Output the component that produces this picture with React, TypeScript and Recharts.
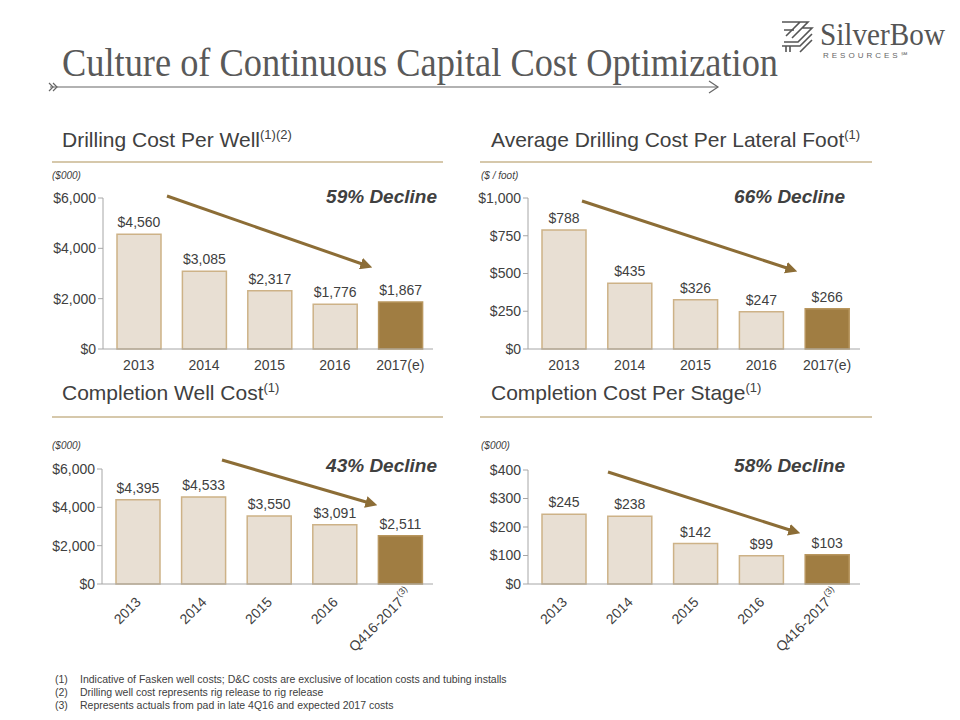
import React from "react";
import { BarChart, Bar, XAxis, YAxis, Cell, LabelList } from "recharts";

// categories
const years = ["2013", "2014", "2015", "2016", "2017(e)"];
const completionPeriods = ["2013", "2014", "2015", "2016", "Q416-2017"];

// series values
const drillingCostPerWell = [4560, 3085, 2317, 1776, 1867];
const drillingCostPerFoot = [788, 435, 326, 247, 266];
const completionWellCost = [4395, 4533, 3550, 3091, 2511];
const completionCostPerStage = [245, 238, 142, 99, 103];

// tick values
const wellTicks = [0, 2000, 4000, 6000];
const footTicks = [0, 250, 500, 750, 1000];
const stageTicks = [0, 100, 200, 300, 400];

const footnotes = [
  "Indicative of Fasken well costs; D&C costs are exclusive of location costs and tubing installs",
  "Drilling well cost represents rig release to rig release",
  "Represents actuals from pad in late 4Q16 and expected 2017 costs",
];

const TEXT = "#404040";
const AXIS = "#A6A6A6";
const LIGHT = "#E8DFD3";
const LIGHT_STROKE = "#CDB287";
const DARK = "#A07D42";
const GOLD_LINE = "#C9B68F";
const ARROW = "#8C6D36";

const fmt = (v: any) => "$" + Number(v).toLocaleString("en-US");

const RotatedTick = (props: any) => {
  const { x, y, payload } = props;
  const v = payload.value;
  return (
    <g transform={`translate(${x - 3},${y + 1})`}>
      <g transform="rotate(-45)">
        <text x={0} y={0} dy={10} textAnchor="end" fill={TEXT} fontSize={14}>
          {v}
        </text>
        {v === "Q416-2017" && (
          <text x={1} y={0} dy={3} textAnchor="start" fill={TEXT} fontSize={9}>
            (3)
          </text>
        )}
      </g>
    </g>
  );
};

type ChartProps = {
  cats: string[];
  values: number[];
  ticks: number[];
  left: number;
  top: number;
  width: number;
  height: number;
  margin: { top: number; right: number; left: number; bottom: number };
  rotated?: boolean;
};

const CostChart = ({ cats, values, ticks, left, top, width, height, margin, rotated }: ChartProps) => {
  const data = cats.map((c, i) => ({ name: c, value: values[i] }));
  return (
    <div style={{ position: "absolute", left, top }}>
      <BarChart width={width} height={height} data={data} margin={margin}>
        <XAxis
          dataKey="name"
          stroke={AXIS}
          tickLine={false}
          interval={0}
          padding={{ left: 3, right: 0 }}
          height={rotated ? 85 : 30}
          tickMargin={5}
          tick={rotated ? RotatedTick : { fill: TEXT, fontSize: 14 }}
        />
        <YAxis
          width={63}
          stroke={AXIS}
          domain={[ticks[0], ticks[ticks.length - 1]]}
          ticks={ticks}
          tickFormatter={fmt}
          tick={{ fill: TEXT, fontSize: 14 }}
          tickSize={5}
        />
        <Bar dataKey="value" barSize={44} isAnimationActive={false} stroke={LIGHT_STROKE} strokeWidth={1.5}>
          {data.map((d, i) => (
            <Cell key={d.name} fill={i === data.length - 1 ? DARK : LIGHT} stroke={i === data.length - 1 ? "#B8965E" : LIGHT_STROKE} />
          ))}
          <LabelList dataKey="value" position="top" offset={7} formatter={fmt} fill={TEXT} fontSize={14} />
        </Bar>
      </BarChart>
    </div>
  );
};

const Header = ({ x, y, lineY, lineX1, lineX2, title, sup }: any) => (
  <g>
    <text x={x} y={y} fontSize={21} fill={TEXT}>
      {title}
      <tspan dy={-8} fontSize={13}>
        {sup}
      </tspan>
    </text>
    <line x1={lineX1} x2={lineX2} y1={lineY} y2={lineY} stroke={GOLD_LINE} strokeWidth={1.5} />
  </g>
);

const Decline = ({ x, y, label }: any) => (
  <text x={x} y={y} textAnchor="end" fontSize={19} fontWeight="bold" fontStyle="italic" fill={TEXT}>
    {label}
  </text>
);

const Arrow = ({ x1, y1, x2, y2 }: any) => (
  <line x1={x1} y1={y1} x2={x2} y2={y2} stroke={ARROW} strokeWidth={3} markerEnd="url(#arrowHead)" />
);

export default function App() {
  return (
    <div
      style={{
        position: "absolute",
        left: 0,
        top: 0,
        width: 960,
        height: 720,
        background: "#fff",
        fontFamily: "'Liberation Sans', Arial, sans-serif",
        overflow: "hidden",
      }}
    >
      <CostChart
        cats={years}
        values={drillingCostPerWell}
        ticks={wellTicks}
        left={0}
        top={180}
        width={460}
        height={200}
        margin={{ top: 18, right: 27, left: 40, bottom: 1 }}
      />
      <CostChart
        cats={years}
        values={drillingCostPerFoot}
        ticks={footTicks}
        left={460}
        top={180}
        width={430}
        height={200}
        margin={{ top: 18, right: 30, left: 5, bottom: 1 }}
      />
      <CostChart
        cats={completionPeriods}
        values={completionWellCost}
        ticks={wellTicks}
        left={0}
        top={450}
        width={460}
        height={230}
        margin={{ top: 19, right: 27, left: 39, bottom: 11 }}
        rotated
      />
      <CostChart
        cats={completionPeriods}
        values={completionCostPerStage}
        ticks={stageTicks}
        left={460}
        top={450}
        width={430}
        height={230}
        margin={{ top: 20, right: 30, left: 5, bottom: 11 }}
        rotated
      />

      <svg width={960} height={720} style={{ position: "absolute", left: 0, top: 0, pointerEvents: "none" }}>
        <defs>
          <marker id="arrowHead" markerWidth="4" markerHeight="4" refX="2.5" refY="2" orient="auto" markerUnits="strokeWidth">
            <path d="M0,0 L4,2 L0,4 Z" fill={ARROW} />
          </marker>
        </defs>

        {/* title */}
        <text
          x={62}
          y={76}
          fontFamily="'Liberation Serif', 'DejaVu Serif', serif"
          fontSize={39}
          fill="#595959"
          textLength={716}
          lengthAdjust="spacingAndGlyphs"
        >
          Culture of Continuous Capital Cost Optimization
        </text>
        <line x1={50} x2={718} y1={87} y2={87} stroke="#666" strokeWidth={1.2} />
        <path d="M49,83 L53,87 L49,91 M53,83 L57,87 L53,91" stroke="#666" fill="none" strokeWidth={1.2} />
        <path d="M709,81 L718,87 L709,93" stroke="#666" fill="none" strokeWidth={1.2} />

        {/* logo */}
        <g stroke="#555" strokeWidth={1.6} fill="none">
          <path d="M782,22 L800,22 L786,36 M788,22 L808,22 L792,38 M802,28 L812,28 L798,42 L784,42" />
          <path d="M784,30 L794,30 M782,46 L800,46 L812,34 M786,52 L786,46 M790,52 L790,46 M800,52 L812,40" />
        </g>
        <text x={820} y={45} fontFamily="'Liberation Serif', serif" fontSize={31} fill="#555" textLength={125} lengthAdjust="spacingAndGlyphs">
          SilverBow
        </text>
        <text x={823} y={58} fontSize={8} fill="#666" letterSpacing={3}>
          RESOURCES℠
        </text>

        {/* section headers */}
        <Header x={62} y={147} lineX1={52} lineX2={443} lineY={162} title="Drilling Cost Per Well" sup="(1)(2)" />
        <Header x={491} y={147} lineX1={480} lineX2={872} lineY={162} title="Average Drilling Cost Per Lateral Foot" sup="(1)" />
        <Header x={62} y={400} lineX1={52} lineX2={443} lineY={417} title="Completion Well Cost" sup="(1)" />
        <Header x={491} y={400} lineX1={480} lineX2={872} lineY={417} title="Completion Cost Per Stage" sup="(1)" />

        <text x={52} y={179} fontSize={10} fontStyle="italic" fill={TEXT}>($000)</text>
        <text x={481} y={179} fontSize={10} fontStyle="italic" fill={TEXT}>($ / foot)</text>
        <text x={52} y={449} fontSize={10} fontStyle="italic" fill={TEXT}>($000)</text>
        <text x={481} y={449} fontSize={10} fontStyle="italic" fill={TEXT}>($000)</text>

        <Decline x={437} y={203} label="59% Decline" />
        <Decline x={845} y={203} label="66% Decline" />
        <Decline x={437} y={472} label="43% Decline" />
        <Decline x={845} y={472} label="58% Decline" />

        <Arrow x1={167} y1={196} x2={368} y2={266} />
        <Arrow x1={582} y1={201} x2={793} y2={270} />
        <Arrow x1={222} y1={460} x2={373} y2={504} />
        <Arrow x1={608} y1={472} x2={796} y2={532} />

        {/* footnotes */}
        {footnotes.map((f, i) => (
          <g key={i}>
            <text x={55} y={683 + i * 13} fontSize={10.5} fill={TEXT}>({i + 1})</text>
            <text x={80} y={683 + i * 13} fontSize={10.5} fill={TEXT}>{f}</text>
          </g>
        ))}
      </svg>
    </div>
  );
}
